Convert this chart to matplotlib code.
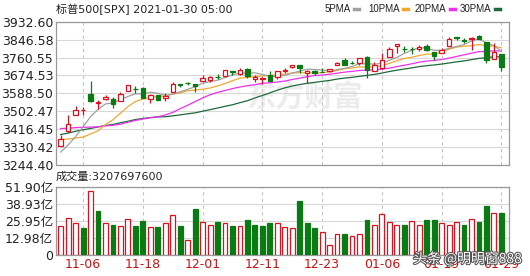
import numpy as np
import pandas as pd
import matplotlib
matplotlib.use('Agg')
import matplotlib.pyplot as plt
import matplotlib.patheffects as pe

plt.rcParams['font.family'] = ['DejaVu Sans', 'Noto Sans CJK SC']

# closes before the window (needed for the moving averages), 09-23 .. 11-02
pre_close = [3236.92, 3246.59, 3298.46, 3351.60, 3335.47, 3363.00, 3380.80, 3348.42,
             3408.60, 3360.97, 3419.44, 3446.83, 3477.14, 3534.22, 3511.93, 3488.67,
             3483.34, 3483.81, 3426.92, 3443.12, 3435.56, 3453.49, 3465.39, 3400.97,
             3390.68, 3271.03, 3310.11, 3269.96, 3310.24]

dates = ['11-03', '11-04', '11-05', '11-06', '11-09', '11-10', '11-11', '11-12', '11-13',
         '11-16', '11-17', '11-18', '11-19', '11-20', '11-23', '11-24', '11-25', '11-27',
         '11-30', '12-01', '12-02', '12-03', '12-04', '12-07', '12-08', '12-09', '12-10',
         '12-11', '12-14', '12-15', '12-16', '12-17', '12-18', '12-21', '12-22', '12-23',
         '12-24', '12-28', '12-29', '12-30', '12-31', '01-04', '01-05', '01-06', '01-07',
         '01-08', '01-11', '01-12', '01-13', '01-14', '01-15', '01-19', '01-20', '01-21',
         '01-22', '01-25', '01-26', '01-27', '01-28', '01-29']

open_ = [3336.25, 3406.46, 3485.74, 3508.34, 3583.04, 3543.26, 3563.22, 3562.67, 3552.57,
         3600.16, 3610.31, 3612.09, 3559.41, 3579.31, 3566.82, 3594.52, 3635.50, 3638.55,
         3634.18, 3645.87, 3653.78, 3668.28, 3670.94, 3694.73, 3683.05, 3705.98, 3659.13,
         3656.08, 3675.27, 3666.41, 3696.25, 3713.65, 3722.39, 3684.28, 3698.08, 3693.42,
         3694.03, 3723.03, 3750.01, 3736.19, 3733.27, 3764.61, 3698.02, 3712.20, 3764.71,
         3815.05, 3803.14, 3801.62, 3802.23, 3814.98, 3788.73, 3781.88, 3816.22, 3857.46,
         3844.24, 3851.68, 3862.96, 3836.83, 3755.75, 3778.05]
high = [3389.49, 3486.25, 3529.05, 3521.58, 3645.99, 3557.22, 3581.16, 3569.02, 3593.66,
        3628.51, 3623.11, 3619.09, 3585.22, 3581.23, 3589.81, 3642.31, 3635.50, 3644.31,
        3634.18, 3678.45, 3670.96, 3682.73, 3699.20, 3697.41, 3708.45, 3712.39, 3678.49,
        3665.91, 3697.61, 3695.29, 3711.27, 3725.12, 3726.70, 3702.90, 3698.26, 3711.24,
        3703.82, 3740.51, 3756.12, 3744.63, 3760.20, 3769.99, 3737.83, 3783.04, 3811.55,
        3826.69, 3817.86, 3810.78, 3820.96, 3823.60, 3788.73, 3804.53, 3859.75, 3861.45,
        3852.31, 3859.23, 3870.90, 3836.83, 3830.50, 3778.05]
low = [3336.25, 3405.17, 3485.74, 3484.34, 3547.48, 3511.91, 3557.00, 3518.58, 3552.57,
       3600.16, 3588.68, 3567.33, 3543.84, 3556.85, 3552.77, 3594.52, 3617.76, 3629.33,
       3594.39, 3645.87, 3644.84, 3657.17, 3670.94, 3678.88, 3678.83, 3660.54, 3645.18,
       3633.40, 3645.84, 3659.62, 3688.57, 3710.87, 3685.84, 3636.48, 3676.16, 3689.28,
       3689.32, 3723.03, 3723.31, 3730.21, 3726.88, 3662.71, 3695.07, 3705.34, 3764.71,
       3783.60, 3789.02, 3776.51, 3791.50, 3792.86, 3749.62, 3780.37, 3816.22, 3845.05,
       3830.41, 3797.16, 3847.78, 3732.48, 3755.75, 3694.12]
close = [3369.16, 3443.44, 3510.45, 3509.44, 3550.50, 3545.53, 3572.66, 3537.01, 3585.15,
         3626.91, 3609.53, 3567.79, 3581.87, 3557.54, 3577.59, 3635.41, 3629.65, 3638.35,
         3621.63, 3662.45, 3669.01, 3666.72, 3699.12, 3691.96, 3702.25, 3672.82, 3668.10,
         3663.46, 3647.49, 3694.62, 3701.17, 3722.48, 3709.41, 3694.92, 3687.26, 3690.01,
         3703.06, 3735.36, 3727.04, 3732.04, 3756.07, 3700.65, 3726.86, 3748.14, 3803.79,
         3824.68, 3799.61, 3801.19, 3809.84, 3795.54, 3768.25, 3798.91, 3851.85, 3853.07,
         3841.47, 3855.36, 3849.62, 3750.77, 3787.38, 3714.24]

# volume in 亿 (1e8)
volume = [22.0, 27.9, 24.3, 20.5, 48.6, 33.4, 24.3, 22.8, 22.0, 27.4, 22.0, 25.8, 21.3,
          21.3, 24.3, 30.1, 22.0, 11.4, 35.0, 25.1, 22.8, 25.1, 24.3, 22.0, 22.0, 26.6,
          22.8, 22.0, 24.3, 24.3, 21.3, 20.5, 41.0, 24.3, 20.5, 17.5, 7.4, 16.0, 16.0,
          14.4, 16.0, 26.6, 22.8, 31.2, 25.1, 22.8, 22.8, 25.8, 22.8, 26.6, 26.6, 24.3,
          22.8, 25.1, 22.8, 27.4, 25.1, 37.2, 31.9, 32.08]

price_ticks = [3244.40, 3330.425, 3416.45, 3502.475, 3588.50, 3674.525, 3760.55, 3846.575, 3932.60]
price_labels = ['3244.40', '3330.42', '3416.45', '3502.47', '3588.50', '3674.53', '3760.55', '3846.58', '3932.60']
vol_ticks = [0, 12.975, 25.95, 38.925, 51.9]
vol_labels = ['0', '12.98亿', '25.95亿', '38.93亿', '51.90亿']
date_ticks = ['11-06', '11-18', '12-01', '12-11', '12-23', '01-06', '01-19', '01-29']
ma_windows = [5, 10, 20, 30]

RED = '#dd1020'
GREEN = '#0a7a12'
ma_colors = {5: '#a0a0a0', 10: '#f0a830', 20: '#ee30ee', 30: '#1e6a3c'}

n = len(close)
x = np.arange(n)
all_close = pd.Series(pre_close + close)
prev_close = np.array(all_close.shift(1))[len(pre_close):]
o = np.array(open_); c = np.array(close); h = np.array(high); l = np.array(low)
up = np.where(c != o, c > o, c >= prev_close)
vol_up = c >= prev_close

fig = plt.figure(figsize=(5.3, 2.76), dpi=100)
ax = fig.add_axes([56/530, 111/276, 453/530, 143.3/276])
axv = fig.add_axes([56/530, 21/276, 453/530, 68.3/276])

tick_pos = [dates.index(d) for d in date_ticks]

for a in (ax, axv):
    a.set_xlim(-0.63, 60.02)
    for s in a.spines.values():
        s.set_color('#999999')
        s.set_linewidth(0.9)
    a.set_xticks(tick_pos)
    a.tick_params(length=0, labelsize=9, pad=2, colors='#222222')
    a.grid(axis='x', color='#c4c4c4', linestyle=(0, (3, 3)), linewidth=0.8)
    a.grid(axis='y', color='#d8d8d8', linestyle='-', linewidth=0.8)
    a.set_axisbelow(True)

# price panel
ax.set_ylim(3244.40, 3932.60)
ax.set_yticks(price_ticks)
ax.set_yticklabels(price_labels)
ax.set_xticklabels([])

# faint watermark
ax.text(32.7, 3572, '东方财富', fontsize=21, color='#ececec', fontweight='bold',
        ha='center', va='center', family=['Noto Sans CJK SC'], zorder=0.5)

for w in sorted(ma_windows, reverse=True):
    ma = all_close.rolling(w).mean().values[len(pre_close):]
    ax.plot(x, ma, color=ma_colors[w], lw=0.9, zorder=2)

ax.vlines(x, l, h, colors=np.where(up, RED, GREEN), lw=0.9, zorder=3)
body_bot = np.minimum(o, c)
body_h = np.maximum(np.abs(c - o), 0.6)
ax.bar(x[up], body_h[up], bottom=body_bot[up], width=0.6, facecolor='white',
       edgecolor=RED, linewidth=0.9, zorder=4)
ax.bar(x[~up], body_h[~up], bottom=body_bot[~up], width=0.6, facecolor=GREEN,
       edgecolor=GREEN, linewidth=0.9, zorder=4)

fig.text(56/530, 1 - 9/276, '标普500[SPX] 2021-01-30 05:00', fontsize=8,
         va='center', ha='left', color='#222222')

# legend
for w, lx in zip(ma_windows, [325, 368, 415, 460]):
    t = fig.text(lx/530, 1 - 9/276, '%dPMA' % w, fontsize=7, va='center', ha='left',
                 color='#222222', family=['Liberation Sans'])
    fig.canvas.draw()
    bb = t.get_window_extent()
    fig.add_artist(plt.Line2D([(bb.x1 + 3)/530, (bb.x1 + 8)/530], [1 - 9/276, 1 - 9/276],
                              color=ma_colors[w], lw=2.5, transform=fig.transFigure))

# volume panel
axv.set_ylim(0, 51.9)
axv.set_yticks(vol_ticks)
axv.set_yticklabels(vol_labels)
axv.set_xticklabels(date_ticks, color='#cc1111')
axv.bar(x[vol_up], np.array(volume)[vol_up], width=0.65, facecolor='white',
        edgecolor=RED, linewidth=0.9, zorder=3)
axv.bar(x[~vol_up], np.array(volume)[~vol_up], width=0.65, facecolor=GREEN,
        edgecolor=GREEN, linewidth=0.9, zorder=3)

fig.text(56/530, 1 - 177/276, '成交量:3207697600', fontsize=8, va='center',
         ha='left', color='#222222')

fig.text(413/530, 1 - 259/276, '头条 @明明窗888', fontsize=10, va='center', ha='left',
         color='white', family=['Noto Sans CJK SC'],
         path_effects=[pe.withStroke(linewidth=1.5, foreground='#555555')])

fig.savefig('out.png', dpi=100)
